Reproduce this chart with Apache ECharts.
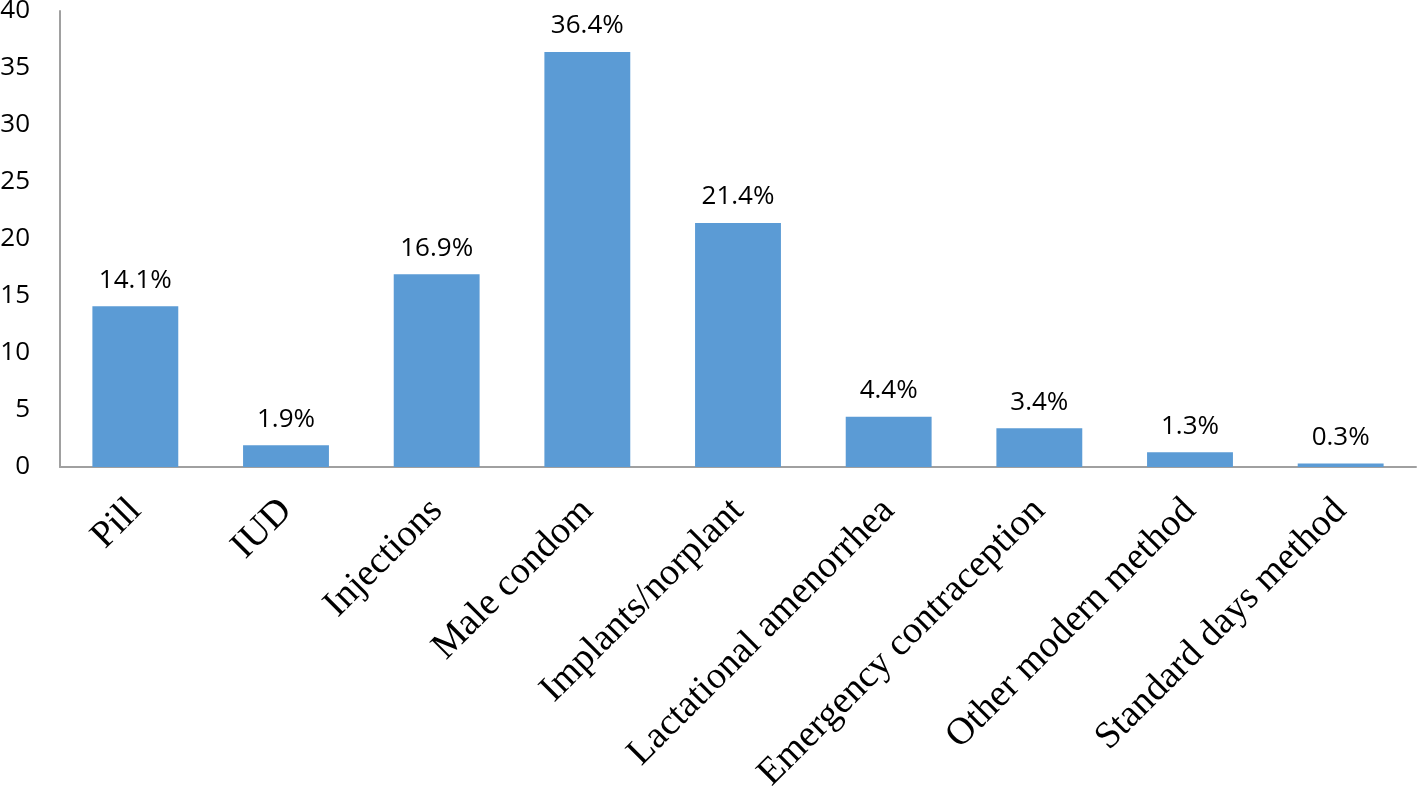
<!DOCTYPE html>
<html>
<head>
<meta charset="utf-8">
<script src="https://cdn.jsdelivr.net/npm/echarts@6/dist/echarts.min.js"></script>
<style>
  html, body { margin: 0; padding: 0; background: #fff; }
  #main { width: 1417px; height: 788px; }
</style>
</head>
<body>
<div id="main"></div>
<script>
  // contraceptive methods
  var categories = ['Pill', 'IUD', 'Injections', 'Male condom', 'Implants/norplant',
    'Lactational amenorrhea', 'Emergency contraception', 'Other modern method', 'Standard days method']
  var shares = [14.1, 1.9, 16.9, 36.4, 21.4, 4.4, 3.4, 1.3, 0.3]
  var yTicks = { min: 0, max: 40, step: 5 }

  var myChart = echarts.init(document.getElementById('main'))
  var option = {
    animation: false,
    grid: { left: 60, right: 1, top: 11, bottom: 321, outerBoundsMode: 'none', containLabel: false },
    xAxis: {
      type: 'category',
      data: categories,
      axisLine: { lineStyle: { color: '#A0A0A0', width: 2 } },
      axisTick: { show: false },
      axisLabel: {
        rotate: 45,
        margin: 38,
        interval: 0,
        color: '#000',
        fontFamily: 'Liberation Serif',
        fontSize: 38
      }
    },
    yAxis: {
      type: 'value',
      min: yTicks.min,
      max: yTicks.max,
      interval: yTicks.step,
      splitLine: { show: false },
      axisLine: { show: true, lineStyle: { color: '#A0A0A0', width: 2 } },
      axisTick: { show: false },
      axisLabel: {
        margin: 30,
        color: '#000',
        fontFamily: 'Open Sans',
        fontSize: 26
      }
    },
    series: [{
      type: 'bar',
      data: shares,
      barWidth: '57%',
      itemStyle: { color: '#5B9BD5' },
      label: {
        show: true,
        position: 'top',
        distance: 13,
        color: '#000',
        fontFamily: 'Open Sans',
        fontSize: 26,
        formatter: function (p) { return p.value.toFixed(1) + '%' }
      }
    }]
  }
  myChart.setOption(option)
</script>
</body>
</html>
